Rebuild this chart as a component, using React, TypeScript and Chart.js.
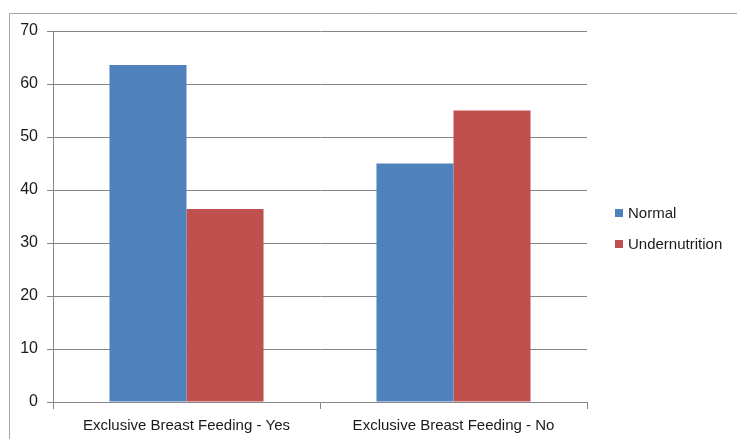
import React, { useEffect, useRef } from "react";
import { Chart, registerables } from "chart.js";

Chart.register(...registerables);

const categories = ["Exclusive Breast Feeding - Yes", "Exclusive Breast Feeding - No"];
const seriesNames = ["Normal", "Undernutrition"];
const normalValues = [63.6, 45];
const undernutritionValues = [36.4, 55];
const yTicks = [0, 10, 20, 30, 40, 50, 60, 70];
const colors = ["#4F81BD", "#C0504D"];

const FONT = "'Liberation Sans', Arial, sans-serif";

const frameAndLegend = {
  id: "frameAndLegend",
  afterDraw(chart: any) {
    const ctx = chart.ctx;
    ctx.save();
    // outer frame (top and left edges)
    ctx.strokeStyle = "#A6A6A6";
    ctx.lineWidth = 1;
    ctx.beginPath();
    ctx.moveTo(9.5, 439);
    ctx.lineTo(9.5, 13.5);
    ctx.lineTo(737, 13.5);
    ctx.stroke();
    // legend
    const ds = chart.data.datasets;
    ctx.font = "15px " + FONT;
    ctx.textBaseline = "middle";
    ctx.textAlign = "left";
    const x0 = 615;
    const ys = [213, 244];
    ds.forEach((d: any, i: number) => {
      ctx.fillStyle = d.backgroundColor;
      ctx.fillRect(x0, ys[i] - 4, 8, 8);
      ctx.fillStyle = "#1a1a1a";
      ctx.fillText(d.label, x0 + 13, ys[i] + 0.5);
    });
    ctx.restore();
  },
};

export default function App() {
  const ref = useRef<HTMLCanvasElement | null>(null);
  useEffect(() => {
    if (!ref.current) return;
    const chart = new Chart(ref.current, {
      type: "bar",
      data: {
        labels: categories,
        datasets: [
          { label: seriesNames[0], data: normalValues, backgroundColor: colors[0] },
          { label: seriesNames[1], data: undernutritionValues, backgroundColor: colors[1] },
        ],
      },
      options: {
        animation: false,
        responsive: false,
        devicePixelRatio: 1,
        layout: { padding: { top: 31, right: 150, left: 0, bottom: 0 } },
        plugins: { legend: { display: false }, tooltip: { enabled: false } },
        datasets: { bar: { barPercentage: 1, categoryPercentage: 0.577 } },
        scales: {
          x: {
            afterFit(scale: any) {
              scale.height = 37;
            },
            grid: {
              offset: true,
              drawOnChartArea: false,
              drawTicks: true,
              tickLength: 7,
              color: "#868686",
            },
            border: { color: "#868686" },
            ticks: {
              color: "#1a1a1a",
              font: { family: FONT, size: 15 },
              padding: 8,
            },
          },
          y: {
            min: 0,
            max: 70,
            afterFit(scale: any) {
              scale.width = 53;
            },
            afterBuildTicks(scale: any) {
              scale.ticks = yTicks.map((v) => ({ value: v }));
            },
            grid: { color: "#868686", tickLength: 6 },
            border: { color: "#868686" },
            ticks: {
              color: "#1a1a1a",
              font: { family: FONT, size: 16 },
              padding: 9,
            },
          },
        },
      },
      plugins: [frameAndLegend],
    });
    return () => chart.destroy();
  }, []);
  return (
    <div style={{ position: "fixed", left: 0, top: 0, width: 737, height: 439, background: "#fff" }}>
      <canvas ref={ref} width={737} height={439} style={{ width: 737, height: 439 }} />
    </div>
  );
}
